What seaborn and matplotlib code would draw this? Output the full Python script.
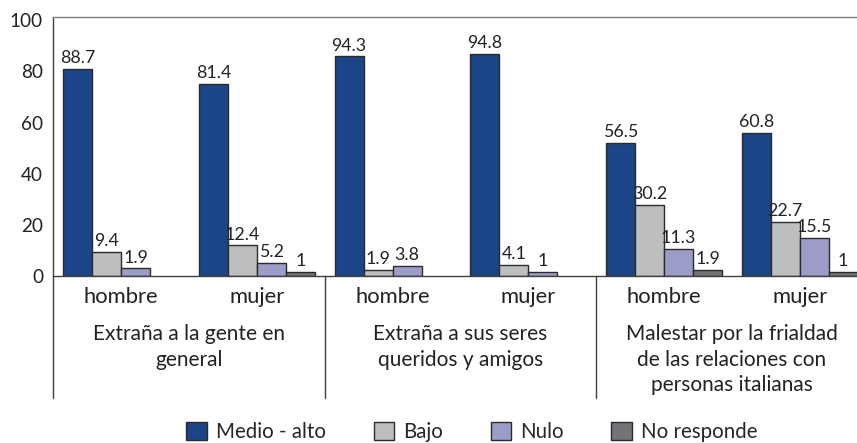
import matplotlib
matplotlib.use("Agg")
import matplotlib.pyplot as plt
import numpy as np
import pandas as pd
import seaborn as sns
from matplotlib.patches import Patch
from matplotlib.transforms import blended_transform_factory

# categories (x) and groups
sexes = ["hombre", "mujer", "hombre", "mujer", "hombre", "mujer"]
groups = [
    "Extraña a la gente en\ngeneral",
    "Extraña a sus seres\nqueridos y amigos",
    "Malestar por la frialdad\nde las relaciones con\npersonas italianas",
]
series = ["Medio - alto", "Bajo", "Nulo", "No responde"]
colors = ["#1c4587", "#bdbec0", "#9b9dc8", "#737477"]

# printed value labels
medio_alto_lbl = ["88.7", "81.4", "94.3", "94.8", "56.5", "60.8"]
bajo_lbl = ["9.4", "12.4", "1.9", "4.1", "30.2", "22.7"]
nulo_lbl = ["1.9", "5.2", "3.8", "1", "11.3", "15.5"]
no_resp_lbl = ["", "1", "", "", "1.9", "1"]

# bar heights as drawn against the axis
medio_alto = [80.9, 75.3, 85.9, 86.8, 52.1, 56.0]
bajo = [9.5, 12.0, 2.3, 4.3, 27.9, 21.2]
nulo = [3.0, 5.0, 4.0, 1.7, 10.7, 14.8]
no_resp = [np.nan, 1.6, np.nan, np.nan, 2.3, 1.7]

cat_keys = [f"{i}-{s}" for i, s in enumerate(sexes)]
rows = []
for name, vals in zip(series, [medio_alto, bajo, nulo, no_resp]):
    for key, v in zip(cat_keys, vals):
        if not np.isnan(v):
            rows.append({"cat": key, "serie": name, "valor": v})
df = pd.DataFrame(rows)
labels = dict(zip(series, [medio_alto_lbl, bajo_lbl, nulo_lbl, no_resp_lbl]))

sns.set_style("white")
plt.rcParams["font.family"] = ["Lato", "DejaVu Sans"]

fig = plt.figure(figsize=(8.57, 4.43), dpi=100)
W, H = 857, 443
ax_l, ax_r, ax_t, ax_b = 53.3, 867.5, 17.3, 276
ax = fig.add_axes([ax_l / W, 1 - ax_b / H, (ax_r - ax_l) / W, (ax_b - ax_t) / H])

sns.barplot(
    data=df, x="cat", y="valor", hue="serie", order=cat_keys, hue_order=series,
    palette=colors, width=0.855, saturation=1, errorbar=None,
    edgecolor="#2b2b2b", linewidth=1, legend=False, ax=ax,
)

for name, cont in zip(series, ax.containers):
    txt = []
    for bar in cont:
        idx = int(round(bar.get_x() + bar.get_width() / 2))
        txt.append(labels[name][idx])
    ax.bar_label(cont, labels=txt, padding=2, fontsize=12.8, color="#222222")

ax.set_xlim(-0.5, 5.5)
ax.set_ylim(0, 101.2)
ax.set_yticks([0, 20, 40, 60, 80, 100])
ax.set_xticks(range(6))
ax.set_xticklabels(sexes)
ax.set_xlabel("")
ax.set_ylabel("")
ax.tick_params(axis="y", length=0, pad=7.5, labelsize=13.6, colors="#222222")
ax.tick_params(axis="x", length=0, pad=8, labelsize=15.8, colors="#222222")
for side in ["top", "right"]:
    ax.spines[side].set_color("#7f7f7f")
for side in ["left", "bottom"]:
    ax.spines[side].set_color("#404040")
for sp in ax.spines.values():
    sp.set_linewidth(1)

# group separators and group labels below the axis
trans = blended_transform_factory(ax.transData, ax.transAxes)
sep_bottom = -(398 - ax_b) / (ax_b - ax_t)
for xb in [-0.5, 1.5, 3.5, 5.5]:
    ax.plot([xb, xb], [0, sep_bottom], color="#404040", lw=1,
            transform=trans, clip_on=False)
for gi, g in enumerate(groups):
    ax.text(2 * gi + 0.5, -(324 - ax_b) / (ax_b - ax_t), g, transform=trans,
            ha="center", va="top", fontsize=15, linespacing=1.35,
            color="#222222")

handles = [Patch(facecolor=c, edgecolor="#2b2b2b", linewidth=1) for c in colors]
fig.legend(handles, series, loc="center", bbox_to_anchor=(472 / W, 1 - 432 / H),
           ncol=4, frameon=False, fontsize=14.8, handlelength=1.0,
           handleheight=0.95, handletextpad=0.45, columnspacing=2.3,
           borderpad=0)

fig.savefig("out.png", dpi=100)
